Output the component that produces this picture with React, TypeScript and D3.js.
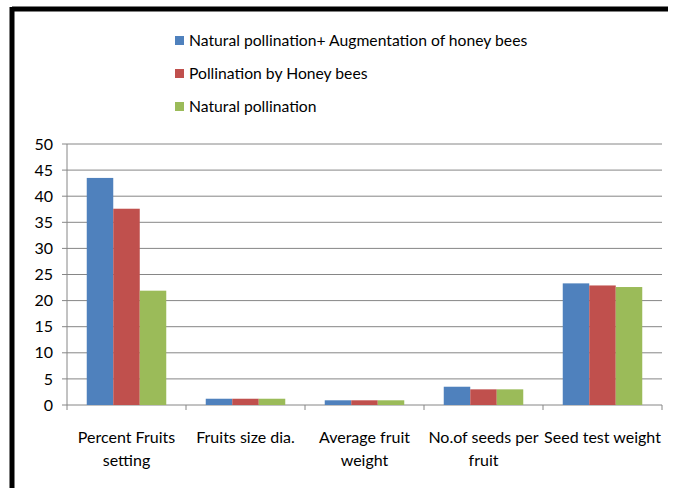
import React from "react";
import * as d3 from "d3";

const categories = [
  ["Percent Fruits", "setting"],
  ["Fruits size dia."],
  ["Average fruit", "weight"],
  ["No.of seeds per", "fruit"],
  ["Seed test weight"],
];
const seriesNames = [
  "Natural pollination+ Augmentation of honey bees",
  "Pollination by Honey bees",
  "Natural pollination",
];
const augmented = [43.5, 1.2, 0.9, 3.5, 23.3];
const honeyBees = [37.6, 1.2, 0.9, 3.0, 22.9];
const natural = [21.9, 1.2, 0.9, 3.0, 22.6];
const yTicks = [0, 5, 10, 15, 20, 25, 30, 35, 40, 45, 50];
const colors = ["#4F81BD", "#C0504D", "#9BBB59"];

export default function App() {
  const W = 673, H = 488;
  const left = 67, right = 662, top = 144, bottom = 405;
  const series = [augmented, honeyBees, natural];
  const x0 = d3.scaleBand<number>().domain(d3.range(categories.length)).range([left, right]).paddingInner(0).paddingOuter(0);
  const x1 = d3.scaleBand<number>().domain([0, 1, 2]).range([0, x0.bandwidth()]).paddingOuter(0.745).paddingInner(0);
  const y = d3.scaleLinear().domain([0, 50]).range([bottom, top]);
  const font = "Lato, 'Open Sans', sans-serif";
  const boundaries = d3.range(categories.length + 1).map((i) => left + i * x0.bandwidth());
  return (
    <svg width={W} height={H} style={{ position: "absolute", left: 0, top: 0, background: "#fff" }} fontFamily={font}>
      <rect x={0} y={0} width={W} height={H} fill="#fff" />
      <line x1={12} y1={9} x2={668} y2={9} stroke="#000" strokeWidth={5} />
      <line x1={12} y1={7} x2={12} y2={H} stroke="#000" strokeWidth={5} />
      {seriesNames.map((s, i) => (
        <g key={s}>
          <rect x={175} y={36 + i * 33} width={9} height={9} fill={colors[i]} />
          <text x={189} y={41 + i * 33} dy="0.35em" fontSize={15.7} fill="#000">{s}</text>
        </g>
      ))}
      {yTicks.map((t) => (
        <g key={t}>
          <line x1={left} x2={right} y1={y(t)} y2={y(t)} stroke="#868686" strokeWidth={1} />
          <line x1={left - 5} x2={left} y1={y(t)} y2={y(t)} stroke="#868686" strokeWidth={1} />
          <text x={53} y={y(t)} dy="0.35em" textAnchor="end" fontSize={16} fill="#000">{t}</text>
        </g>
      ))}
      <line x1={left} x2={left} y1={top} y2={bottom} stroke="#868686" strokeWidth={1} />
      {boundaries.map((b, i) => (
        <line key={i} x1={b} x2={b} y1={bottom} y2={bottom + 5} stroke="#868686" strokeWidth={1} />
      ))}
      {series.map((vals, si) =>
        vals.map((v, ci) => (
          <rect key={si + "-" + ci} x={(x0(ci) as number) + (x1(si) as number)} y={y(v)} width={x1.bandwidth()} height={bottom - y(v)} fill={colors[si]} />
        ))
      )}
      {categories.map((lines, ci) => (
        <text key={ci} x={(x0(ci) as number) + x0.bandwidth() / 2} y={437} textAnchor="middle" fontSize={16} fill="#000">
          {lines.map((l, li) => (
            <tspan key={li} x={(x0(ci) as number) + x0.bandwidth() / 2} dy={li === 0 ? "0.35em" : 23}>{l}</tspan>
          ))}
        </text>
      ))}
    </svg>
  );
}
